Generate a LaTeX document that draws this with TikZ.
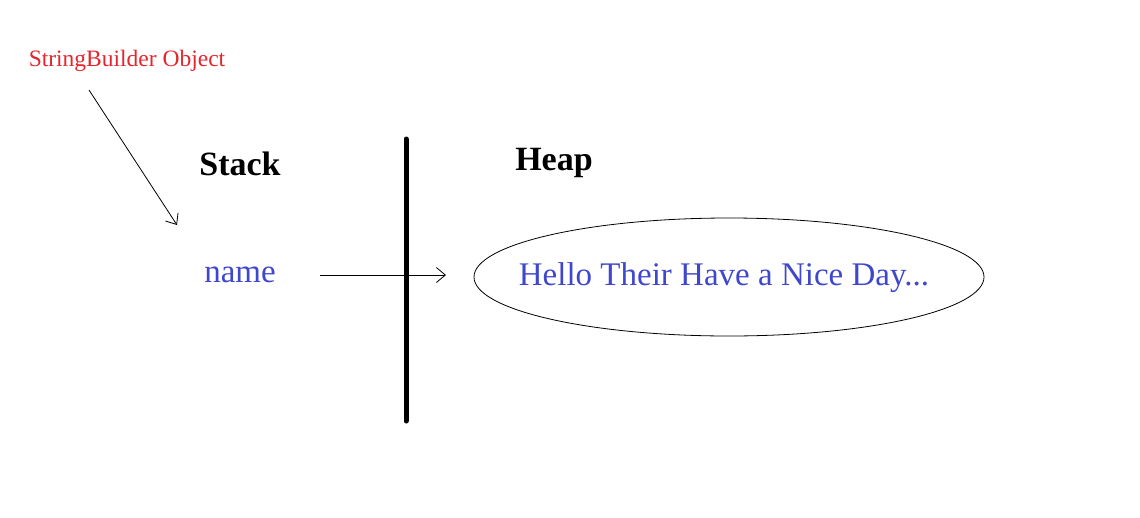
\documentclass[tikz,border=0pt]{standalone}
\usepackage{fontspec}
\setmainfont{Liberation Serif}
\usetikzlibrary{arrows.meta,shapes.geometric}
\definecolor{redtxt}{RGB}{228,38,44}
\definecolor{bluetxt}{RGB}{63,72,204}
\tikzset{
  lbl/.style={inner sep=0pt, anchor=base},
  big/.style={font=\fontsize{33}{36}\selectfont},
  bigbold/.style={font=\fontsize{34}{36}\selectfont\bfseries},
  ptr/.style={draw=black, line width=0.8pt, -{Straight Barb[length=9pt,width=15pt]}},
}
\begin{document}
\begin{tikzpicture}[x=1pt,y=-1pt]
\useasboundingbox (0,0) rectangle (1140,517);
\node[lbl, text=redtxt, font=\fontsize{23.5}{26}\selectfont] (sbo) at (127,66) {StringBuilder Object};
\coordinate (a1) at (89,90);
\coordinate (a2) at (177,225);
\draw[ptr] (a1) -- (a2);
\node[lbl, bigbold] (stack) at (240,175) {Stack};
\node[lbl, bigbold] (heap) at (554,170) {Heap};
\coordinate (d1) at (406,139);
\coordinate (d2) at (406,421);
\draw[line width=5pt, line cap=round] (d1) -- (d2);
\node[lbl, big, text=bluetxt] (name) at (240,282) {name};
\node[draw=black, line width=0.8pt, ellipse, minimum width=510pt, minimum height=118pt, inner sep=0pt] (obj) at (729,277) {};
\node[lbl, big, text=bluetxt] (hello) at (724,285) {Hello Their Have a Nice Day...};
\coordinate (p1) at (320,275);
\coordinate (p2) at (446,275);
\draw[ptr] (p1) -- (p2);
\end{tikzpicture}
\end{document}
